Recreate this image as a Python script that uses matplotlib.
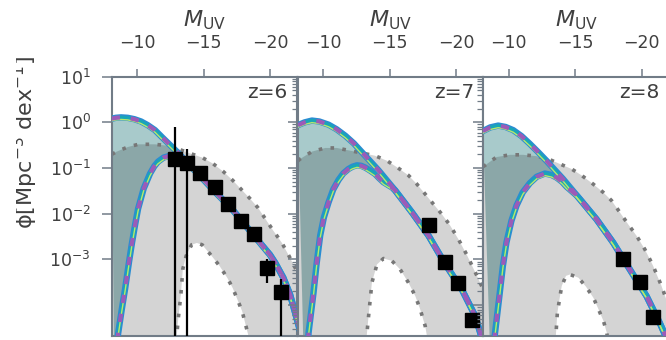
import matplotlib
matplotlib.use("Agg")
import matplotlib.pyplot as plt
import numpy as np
from matplotlib.transforms import Bbox, TransformedBbox, ScaledTranslation

# ---- data (M_UV, log10 phi) ----
redshifts = [6, 7, 8]

# z = 6
up6_M = [-8.1, -8.4, -8.8, -9.3, -9.8, -10.3, -10.8, -11.35, -11.9, -12.5, -13.2, -14.0,
         -15.0, -16.0, -17.15, -18.0, -19.0, -20.0, -20.4, -21.0, -21.5, -21.9, -22.2]
up6_lp = [0.08, 0.10, 0.11, 0.10, 0.07, 0.02, -0.06, -0.17, -0.33, -0.50, -0.70, -0.95,
          -1.25, -1.56, -1.90, -2.20, -2.55, -2.90, -3.08, -3.40, -3.76, -4.18, -4.50]
lo6_M = [-8.3, -8.57, -8.85, -9.1, -9.4, -9.62, -9.85, -10.08, -10.5, -10.98, -11.3, -11.58,
         -12.0, -12.5, -13.0, -13.6, -14.2]
lo6_lp = [-6.0, -4.64, -4.10, -3.65, -3.05, -2.64, -2.25, -1.89, -1.45, -1.12, -0.96, -0.86,
          -0.77, -0.73, -0.75, -0.84, -1.01]
du6_M = [-8.1, -8.47, -9.3, -10.1, -11.35, -12.26, -13.0, -13.8, -14.9, -15.7, -16.5,
         -17.2, -18.5, -19.1, -20.15, -20.9, -21.35, -22.1]
du6_lp = [-0.70, -0.64, -0.54, -0.48, -0.48, -0.51, -0.57, -0.66, -0.77, -0.90, -1.08,
          -1.27, -1.67, -1.87, -2.33, -2.64, -2.88, -3.30]
dl6_M = [-8.1, -12.95, -13.1, -13.3, -13.45, -13.7, -14.1, -14.5, -14.9, -15.6, -16.2,
         -16.8, -17.2, -17.9, -18.35, -18.5, -22.1]
dl6_lp = [-8.0, -4.8, -4.3, -3.76, -3.2, -2.92, -2.68, -2.64, -2.68, -2.92, -3.14,
          -3.41, -3.63, -4.13, -4.64, -4.85, -8.0]
pt6_M = [-12.85, -13.75, -14.75, -15.85, -16.85, -17.8, -18.8, -19.75, -20.8]
pt6_lp = [-0.81, -0.88, -1.10, -1.41, -1.78, -2.15, -2.44, -3.19, -3.71]
pt6_hi = [-0.11, -0.59, -1.10, -1.41, -1.78, -2.15, -2.44, -2.99, -3.43]
pt6_lo = [-9.0, -9.0, -1.10, -1.41, -1.78, -2.15, -2.44, -3.52, -9.0]

# z = 7
up7_M = [-8.1, -8.6, -9.15, -9.7, -10.4, -11.0, -11.65, -12.3, -12.9, -13.5, -14.16,
         -15.41, -16.67, -17.92, -19.17, -20.43, -21.43, -21.8, -22.1]
up7_lp = [-0.06, 0.0, 0.04, 0.02, -0.05, -0.15, -0.29, -0.46, -0.65, -0.84, -1.05,
          -1.49, -1.97, -2.48, -3.10, -3.66, -4.24, -4.60, -4.90]
lo7_M = [-8.6, -8.9, -9.27, -9.5, -9.77, -10.05, -10.4, -10.75, -11.15, -11.5, -11.9,
         -12.2, -12.53, -12.85, -13.16, -13.5, -13.9, -14.2, -14.53, -15.2]
lo7_lp = [-6.0, -4.6, -3.73, -3.10, -2.48, -2.08, -1.75, -1.47, -1.26, -1.12, -1.02,
          -0.97, -0.94, -0.95, -0.99, -1.05, -1.13, -1.22, -1.31, -1.43]
du7_M = [-8.1, -8.27, -9.15, -10.15, -11.03, -12.03, -12.9, -13.9, -14.79, -15.54,
         -16.41, -17.04, -17.67, -18.29, -18.92, -19.55, -20.17, -20.8, -21.56, -22.1]
du7_lp = [-0.84, -0.80, -0.64, -0.56, -0.56, -0.62, -0.67, -0.73, -0.84, -0.98,
          -1.16, -1.35, -1.57, -1.79, -2.01, -2.26, -2.56, -2.90, -3.36, -3.70]
dl7_M = [-8.1, -13.2, -13.28, -13.46, -13.66, -14.04, -14.53, -15.16, -15.79, -16.41,
         -16.92, -17.29, -17.67, -17.8, -17.9, -22.1]
dl7_lp = [-8.0, -4.9, -4.64, -4.09, -3.51, -3.11, -2.98, -3.03, -3.22, -3.51,
          -3.80, -4.09, -4.46, -4.68, -4.85, -8.0]
pt7_M = [-17.92, -19.17, -20.17, -21.18]
pt7_lp = [-2.24, -3.05, -3.52, -4.33]

# z = 8
up8_M = [-8.05, -8.6, -9.2, -9.75, -10.33, -10.95, -11.58, -12.2, -12.83, -13.45, -14.08,
         -15.34, -16.59, -17.84, -19.1, -20.35, -21.35, -21.73, -22.1]
up8_lp = [-0.19, -0.11, -0.07, -0.10, -0.17, -0.30, -0.47, -0.65, -0.84, -1.04, -1.24,
          -1.68, -2.12, -2.63, -3.22, -3.80, -4.39, -4.64, -4.90]
lo8_M = [-8.7, -8.95, -9.32, -9.55, -9.82, -10.2, -10.58, -11.05, -11.58, -12.1, -12.71,
         -13.2, -13.6, -14.0, -14.35, -15.1]
lo8_lp = [-6.0, -4.64, -3.73, -3.15, -2.63, -2.15, -1.82, -1.53, -1.33, -1.19, -1.12,
          -1.15, -1.21, -1.30, -1.41, -1.60]
du8_M = [-8.05, -8.19, -9.07, -10.08, -11.08, -12.08, -12.96, -13.84, -14.72, -15.47,
         -16.34, -17.09, -17.72, -18.35, -18.97, -19.6, -20.23, -20.85, -21.48, -21.75, -22.1]
du8_lp = [-0.97, -0.945, -0.76, -0.71, -0.71, -0.74, -0.80, -0.91, -1.02, -1.16,
          -1.35, -1.53, -1.71, -1.97, -2.23, -2.48, -2.78, -3.14, -3.58, -3.80, -4.10]
dl8_M = [-8.1, -13.5, -13.55, -13.65, -13.85, -13.98, -14.3, -14.6, -15.23, -15.81,
         -16.36, -16.74, -17.12, -17.37, -17.45, -22.1]
dl8_lp = [-8.0, -4.9, -4.61, -4.17, -3.80, -3.58, -3.36, -3.33, -3.40, -3.60,
          -3.84, -4.09, -4.35, -4.61, -4.80, -8.0]
pt8_M = [-18.6, -19.85, -20.85]
pt8_lp = [-2.98, -3.49, -4.26]

panels = [
    (up6_M, up6_lp, lo6_M, lo6_lp, du6_M, du6_lp, dl6_M, dl6_lp, pt6_M, pt6_lp, pt6_hi, pt6_lo),
    (up7_M, up7_lp, lo7_M, lo7_lp, du7_M, du7_lp, dl7_M, dl7_lp, pt7_M, pt7_lp, None, None),
    (up8_M, up8_lp, lo8_M, lo8_lp, du8_M, du8_lp, dl8_M, dl8_lp, pt8_M, pt8_lp, None, None),
]

M_ticks = [-10, -15, -20]
TEXT = "#404040"
FRAME = "#717c87"

W, H = 666, 340
fig = plt.figure(figsize=(W / 100, H / 100), dpi=100)
lefts = [111.5, 297.7, 483.3]
ax_w, ax_top, ax_bot = 185.5, 76.7, 335.7


def join_tail(up_M, up_lp, lo_M, lo_lp):
    """lower model curve merges into the upper one at the bright end"""
    M = list(lo_M) + [m for m in up_M if m < lo_M[-1]]
    lp = list(lo_lp) + [v for m, v in zip(up_M, up_lp) if m < lo_M[-1]]
    return np.array(M), np.array(lp)


def model_line(ax, M, phi):
    kw = dict(solid_joinstyle="round", dash_joinstyle="round")
    ax.plot(M, phi, color="#2a8dd2", lw=4.6, zorder=3, **kw)
    ax.plot(M, phi, color="#19a6b6", lw=2.4, zorder=3.1, **kw)
    off = ax.transData + ScaledTranslation(0, -1.5 / 72, fig.dpi_scale_trans)
    ax.plot(M, phi, color="#b8e86c", lw=1.0, transform=off, zorder=3.2, **kw)
    ax.plot(M, phi, color="#9c5bb8", lw=3.0, dashes=(2.0, 2.6), zorder=3.3, **kw)


for i, (z, p) in enumerate(zip(redshifts, panels)):
    upM, uplp, loM, lolp, duM, dulp, dlM, dllp, pM, plp, phi_hi, phi_lo = p
    ax = fig.add_axes([lefts[i] / W, (H - ax_bot) / H, ax_w / W, (ax_bot - ax_top) / H])
    ax.set_yscale("log")

    upM = np.array(upM); upphi = 10 ** np.array(uplp)
    lM, llp = join_tail(upM, uplp, loM, lolp)
    lphi = 10 ** llp

    # model envelope (between the two solid curves)
    ax.fill(np.r_[upM, lM[::-1]], np.r_[upphi, lphi[::-1]],
            color="cadetblue", alpha=0.54, lw=0, zorder=1)
    # dotted range
    duphi = 10 ** np.array(dulp); dlphi = 10 ** np.array(dllp)
    ax.fill(np.r_[duM, dlM[::-1]], np.r_[duphi, dlphi[::-1]],
            color="k", alpha=0.17, lw=0, zorder=1.1)
    for xs, ys in ((duM, duphi), (dlM, dlphi)):
        ax.plot(xs, ys, color="#777777", lw=2.6, dashes=(1.0, 2.3), zorder=2)

    model_line(ax, upM, upphi)
    model_line(ax, lM, lphi)

    phi = 10 ** np.array(plp)
    if phi_hi is not None:
        yerr = [phi - 10 ** np.array(phi_lo), 10 ** np.array(phi_hi) - phi]
    else:
        yerr = None
    ax.errorbar(pM, phi, yerr=yerr, fmt="s", color="k", ms=10.5, elinewidth=1.6,
                capsize=0, zorder=5)

    ax.set_xlim(-8.08, -22.03)
    ax.xaxis.tick_top()
    ax.xaxis.set_label_position("top")
    ax.set_xticks(M_ticks)
    ax.set_xlabel(r"$M_{\rm UV}$", fontsize=16, color=TEXT, labelpad=5)
    ax.tick_params(axis="x", which="both", top=True, bottom=False, direction="out",
                   length=6, width=1.1, color=FRAME, labelsize=12.5, labelcolor=TEXT, pad=12)
    if i == 0:
        ax.set_yticks([1e1, 1e0, 1e-1, 1e-2, 1e-3])
        ax.yaxis.set_minor_locator(matplotlib.ticker.NullLocator())
        ax.tick_params(axis="y", which="major", direction="out", length=7, width=1.1,
                       color=FRAME, labelsize=12.5, labelcolor=TEXT, pad=8)
    else:
        ax.yaxis.set_major_locator(matplotlib.ticker.LogLocator(base=10, numticks=10))
        ax.yaxis.set_minor_locator(matplotlib.ticker.LogLocator(base=10, subs=np.arange(2, 10),
                                                                numticks=20))
        ax.tick_params(axis="y", which="major", direction="out", length=7, width=1.1,
                       color=FRAME, labelleft=False)
        ax.tick_params(axis="y", which="minor", direction="out", length=4, width=0.9,
                       color=FRAME, labelleft=False)
    ax.set_ylim(10 ** -4.67, 10)
    for s in ax.spines.values():
        s.set_color(FRAME)
        s.set_linewidth(1.5)
    ax.text(0.95, 0.975, f"z={z}", transform=ax.transAxes, ha="right", va="top",
            fontsize=14.5, color=TEXT)

lab = fig.text(25 / W, 1 - 142 / H, "ϕ[Mpc$^{-3}$ dex$^{-1}$]", rotation=90,
               ha="center", va="center", fontsize=16, color=TEXT)
lab.set_clip_box(TransformedBbox(Bbox.from_extents(15.5 / W, 0, 1, 1), fig.transFigure))
lab.set_clip_on(True)

fig.savefig("out.png", dpi=100)
